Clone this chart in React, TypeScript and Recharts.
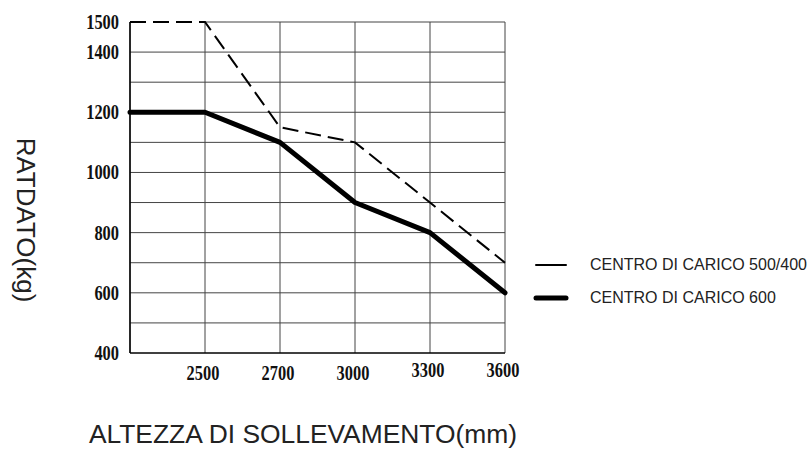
import React from 'react';
import { LineChart, Line, XAxis, YAxis, CartesianGrid, ReferenceLine, Legend } from 'recharts';

// lift heights (mm) and rated capacities (kg)
const heights = ['', '2500', '2700', '3000', '3300', '3600'];
const load500 = [1500, 1500, 1150, 1100, 900, 700];
const load600 = [1200, 1200, 1100, 900, 800, 600];
const yTicks = [400, 600, 800, 1000, 1200, 1400, 1500];
const gridLevels = [500, 600, 700, 800, 900, 1000, 1100, 1200, 1300, 1400];

const seriesNames = ['CENTRO DI CARICO 500/400', 'CENTRO DI CARICO 600'];

const data = heights.map((h, i) => ({ height: h, c500: load500[i], c600: load600[i] }));

const tickFont = {
  fontFamily: '"Liberation Serif", "DejaVu Serif", serif',
  fontWeight: 700,
  fontSize: 20,
  fill: '#111',
};

const XTick = (props: any) => {
  const { x, y, payload, index } = props;
  const lift = index >= 4 ? 3 : 0;
  return (
    <text transform={`translate(${x - 2},${y + 19 - lift}) scale(0.82,1)`} textAnchor="middle" style={tickFont}>
      {payload.value}
    </text>
  );
};

const YTick = (props: any) => {
  const { x, y, payload } = props;
  return (
    <text transform={`translate(${x - 3},${y + 7}) scale(0.82,1)`} textAnchor="end" style={tickFont}>
      {payload.value}
    </text>
  );
};

const LegendBox = () => (
  <div style={{ fontFamily: '"Liberation Sans", Arial, sans-serif', fontSize: 16, color: '#222' }}>
    {seriesNames.map((name, i) => (
      <div key={name} style={{ display: 'flex', alignItems: 'center', height: 33 }}>
        <svg width={66} height={12} style={{ display: 'block' }}>
          <line x1={12} y1={6} x2={42} y2={6} stroke="#000" strokeWidth={i === 0 ? 2 : 5} strokeLinecap="round" />
        </svg>
        <span>{name}</span>
      </div>
    ))}
  </div>
);

export default function App() {
  return (
    <div style={{ position: 'absolute', left: 0, top: 0, width: 811, height: 450, background: '#fff' }}>
      <LineChart width={811} height={450} data={data} margin={{ top: 22, right: 306, bottom: 67, left: 70 }}>
        <CartesianGrid horizontal={false} stroke="#444" strokeWidth={1} />
        {gridLevels.map((v) => (
          <ReferenceLine key={v} y={v} stroke="#444" strokeWidth={1} />
        ))}
        <ReferenceLine
          segment={[
            { x: '2500', y: 1500 },
            { x: '3600', y: 1500 },
          ]}
          stroke="#444"
          strokeWidth={1}
        />
        <XAxis
          dataKey="height"
          scale="point"
          padding={{ left: 0, right: 0 }}
          interval={0}
          tickLine={false}
          axisLine={{ stroke: '#000', strokeWidth: 1.5 }}
          tick={<XTick />}
          height={30}
          label={{
            content: () => (
              <text
                x={303}
                y={443}
                textAnchor="middle"
                style={{ fontFamily: '"Liberation Sans", Arial, sans-serif', fontSize: 26.4, fill: '#222' }}
              >
                ALTEZZA DI SOLLEVAMENTO(mm)
              </text>
            ),
          }}
        />
        <YAxis
          type="number"
          domain={[400, 1500]}
          ticks={yTicks}
          interval={0}
          tickLine={false}
          axisLine={{ stroke: '#000', strokeWidth: 1.5 }}
          tick={<YTick />}
          width={60}
          label={{
            content: () => (
              <text
                transform="translate(26,220) rotate(90)"
                y={9}
                textAnchor="middle"
                style={{ fontFamily: '"Liberation Sans", Arial, sans-serif', fontSize: 26, fill: '#222' }}
              >
                RATDATO(kg)
              </text>
            ),
          }}
        />
        <Line
          dataKey="c500"
          name={seriesNames[0]}
          stroke="#000"
          strokeWidth={2}
          strokeDasharray="16 7"
          dot={false}
          activeDot={false}
          isAnimationActive={false}
        />
        <Line
          dataKey="c600"
          name={seriesNames[1]}
          stroke="#000"
          strokeWidth={5}
          strokeLinejoin="round"
          strokeLinecap="round"
          dot={false}
          activeDot={false}
          isAnimationActive={false}
        />
        <Legend
          align="center"
          verticalAlign="middle"
          content={<LegendBox />}
          wrapperStyle={{ left: 524, top: 248, width: 287 }}
        />
      </LineChart>
    </div>
  );
}
